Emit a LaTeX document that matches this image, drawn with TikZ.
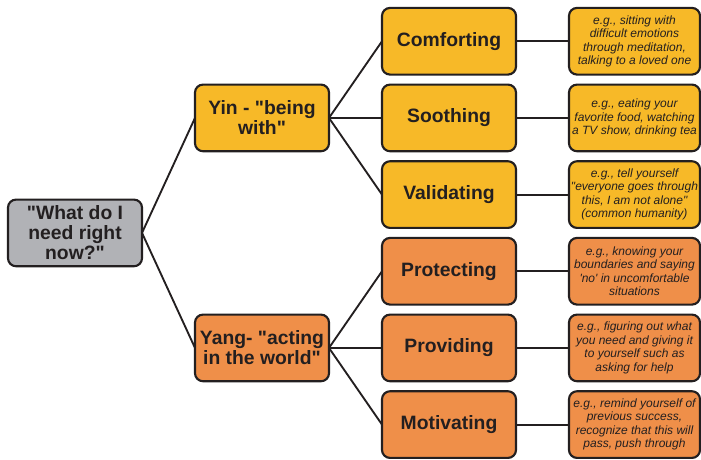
\documentclass[tikz,border=0pt]{standalone}
\usepackage{fontspec}
\setmainfont{Liberation Sans}[Ligatures=TeXOff]
\usetikzlibrary{positioning,calc}

\definecolor{yinyellow}{HTML}{F7B928}
\definecolor{yangorange}{HTML}{EF8F49}
\definecolor{needgray}{HTML}{B1B2B6}
\definecolor{ink}{HTML}{231F20}

\begin{document}
\begin{tikzpicture}[%
 	    node distance=7.5pt and 39.75pt,
 	    box/.style={draw=ink, line width=1.6pt, rounded corners=6pt,
 	      text=ink, align=center, inner sep=0pt, outer sep=0pt},
 	    big/.style={box, minimum width=100.5pt, minimum height=50pt,
 	      font=\bfseries\fontsize{14.5}{15}\selectfont},
 	    note/.style={box, minimum width=98.25pt, minimum height=50pt,
 	      font=\itshape\fontsize{9}{10.1}\selectfont},
 	    yin/.style={fill=yinyellow},
 	    yang/.style={fill=yangorange},
 	    link/.style={draw=ink, line width=1.4pt}
 	  ]

 	  \useasboundingbox (0,0) rectangle (525.75pt,-345pt);

 	  % middle column
 	  \node[big,yin] (COM) at (336.75pt,-30.94pt) {Comforting};
 	  \node[big,yin] (SOO) [below=of COM] {Soothing};
 	  \node[big,yin] (VAL) [below=of SOO] {Validating};
 	  \node[big,yang] (PRO) [below=of VAL] {Protecting};
 	  \node[big,yang] (PRV) [below=of PRO] {Providing};
 	  \node[big,yang] (MOT) [below=of PRV] {Motivating};

 	  % the two ways
 	  \node[big,yin] (YIN) [left=of SOO] {Yin - "being\\with"};
 	  \node[big,yang] (YANG) [left=of PRV] {Yang- "acting\\in the world"};

 	  \coordinate (MID) at ($(YIN.west)!0.5!(YANG.west)$);
 	  \node[big,fill=needgray] (NEED) [left=39.75pt of MID]
 	    {"What do I\\need right\\now?"};

 	  % examples
 	  \node[note,yin] (COM1) [right=of COM]
 	    {e.g., sitting with\\difficult emotions\\through meditation,\\talking to a loved one};
 	  \node[note,yin] (SOO1) [right=of SOO]
 	    {e.g., eating your\\favorite food, watching\\a TV show, drinking tea};
 	  \node[note,yin] (VAL1) [right=of VAL]
 	    {e.g., tell yourself\\"everyone goes through\\this, I am not alone"\\(common humanity)};
 	  \node[note,yang] (PRO1) [right=of PRO]
 	    {e.g., knowing your\\boundaries and saying\\'no' in uncomfortable\\situations};
 	  \node[note,yang] (PRV1) [right=of PRV]
 	    {e.g., figuring out what\\you need and giving it\\to yourself such as\\asking for help};
 	  \node[note,yang] (MOT1) [right=of MOT]
 	    {e.g., remind yourself of\\previous success,\\recognize that this will\\pass, push through};

 	  \path[link]
 	      (NEED.east)
 		  edge (YIN.west)
 		  edge (YANG.west)
 	      (YIN.east)
 		  edge (COM.west)
 		  edge (SOO.west)
 		  edge (VAL.west)
 	      (YANG.east)
 		  edge (PRO.west)
 		  edge (PRV.west)
 		  edge (MOT.west)
 	      (COM) edge (COM1)
 	      (SOO) edge (SOO1)
 	      (VAL) edge (VAL1)
 	      (PRO) edge (PRO1)
 	      (PRV) edge (PRV1)
 	      (MOT) edge (MOT1);

\end{tikzpicture}
\end{document}
